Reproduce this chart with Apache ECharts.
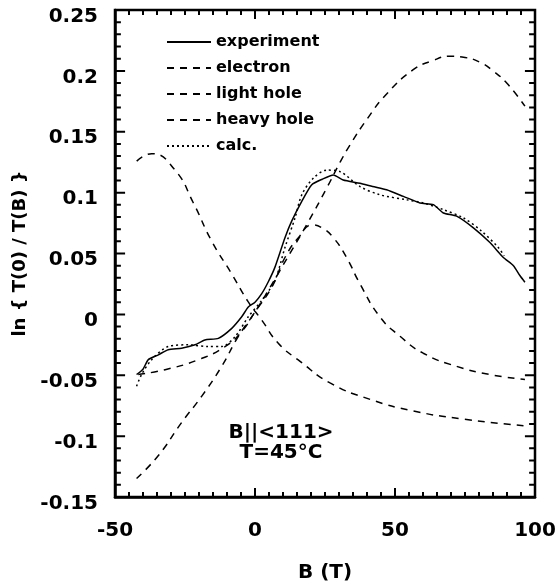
<!DOCTYPE html>
<html>
<head>
    <meta charset="utf-8">
    <title>ln T(0)/T(B)</title>
    <script src="https://cdn.jsdelivr.net/npm/echarts@6/dist/echarts.min.js"></script>
    <style>
        body { margin: 0; background: #fff; }
    </style>
</head>
<body>
    <div id="main" style="width: 560px;height:588px;"></div>
    <script type="text/javascript">
        // 数据
        var expX = [-42.3, -40, -38.1, -34.5, -31, -26.2, -21.4, -17.9, -13.1, -8.3, -4.75, -2.4, 0, 2.4, 4.8, 7.1, 10.7, 13.1, 16.7, 20.2, 24, 28, 31.5, 37.5, 42, 47, 53, 58.9, 63.7, 67.3, 72, 78, 83.9, 88.7, 92.3, 94.6, 96.4];
        var expY = [-0.0494, -0.045, -0.0372, -0.0332, -0.029, -0.0278, -0.025, -0.021, -0.0197, -0.0115, -0.002, 0.006, 0.010, 0.017, 0.027, 0.0386, 0.063, 0.0766, 0.0928, 0.1063, 0.111, 0.1145, 0.1104, 0.1077, 0.105, 0.1023, 0.0969, 0.0915, 0.0901, 0.0833, 0.0807, 0.0711, 0.059, 0.0467, 0.04, 0.0319, 0.0264];

        var elecX = [-42.3, -34.5, -26.2, -19, -11.9, -6, 0, 4.75, 8.9, 13.7, 18.5, 25.6, 30.4, 33.9, 39.9, 47, 56.5, 63, 69.6, 75, 80.4, 85, 89.9, 96.4];
        var elecY = [-0.1348, -0.1159, -0.0888, -0.0671, -0.0427, -0.0183, 0.002, 0.0197, 0.036, 0.0549, 0.0738, 0.1037, 0.125, 0.139, 0.160, 0.181, 0.201, 0.208, 0.212, 0.211, 0.207, 0.2, 0.19, 0.171];

        var lightX = [-41.7, -32.1, -20.2, -10.7, -4.75, 0, 6, 10.7, 15.5, 20.5, 24, 28, 32.7, 37.5, 44.6, 51.8, 60.1, 72, 83.9, 96.4];
        var lightY = [-0.0494, -0.0454, -0.0372, -0.0264, -0.0142, 0.002, 0.0224, 0.0467, 0.063, 0.0735, 0.071, 0.063, 0.0467, 0.025, -0.002, -0.018, -0.0319, -0.0427, -0.0494, -0.0535];

        var heavyX = [-42.25, -36.9, -28.6, -22, -15.5, -8.3, -2.4, 2.4, 8.3, 16.1, 26.8, 41.1, 56.5, 74.4, 96.4];
        var heavyY = [0.1259, 0.132, 0.1186, 0.0915, 0.0603, 0.0332, 0.0102, -0.0047, -0.0237, -0.0386, -0.0563, -0.0698, -0.0793, -0.086, -0.0915];

        var calcX = [-42.3, -40.5, -36.9, -31, -23.8, -16.7, -11.9, -7.1, -2.4, 2.4, 7.1, 10.7, 14.3, 16.7, 20.8, 25.6, 30.4, 37.5, 44.6, 54.2, 60.1, 67.3, 74.4, 80.9, 86.9, 89];
        var calcY = [-0.059, -0.0494, -0.0372, -0.0264, -0.025, -0.0264, -0.0264, -0.0183, -0.002, 0.0115, 0.0278, 0.0549, 0.0793, 0.0982, 0.1118, 0.1185, 0.1172, 0.105, 0.0982, 0.0941, 0.0915, 0.086, 0.0793, 0.0684, 0.0549, 0.048];

        var names = ['experiment', 'electron', 'light hole', 'heavy hole', 'calc.'];

        // 坐标轴范围
        var xMin = -50, xMax = 100, xStep = 50;
        var yMin = -0.15, yMax = 0.25, yStep = 0.05;

        function pairs(xs, ys) {
            var out = [];
            for (var i = 0; i < xs.length; i++) {
                out.push([xs[i], ys[i]]);
            }
            return out;
        }

        // 四边内刻度: 用一条断开的折线画, 长度换成数据单位
        // (x 方向 1 单位约 2.8px, y 方向 0.01 约 12.3px)
        var tickPts = [];
        function seg(x1, y1, x2, y2) {
            tickPts.push([x1, y1], [x2, y2], [x2, '-']);
        }
        for (var i = 0; i <= 30; i++) {
            var xv = xMin + i * 5;
            var ylen = (i % 10 === 0) ? 0.0073 : 0.0041;
            seg(xv, yMin, xv, yMin + ylen);
            seg(xv, yMax, xv, yMax - ylen);
        }
        for (var j = 0; j <= 40; j++) {
            var yv = Math.round((yMin + j * 0.01) * 1000) / 1000;
            var xlen = (j % 5 === 0) ? 3.6 : 2.1;
            seg(xMin, yv, xMin + xlen, yv);
            seg(xMax, yv, xMax - xlen, yv);
        }

        var font = 'DejaVu Sans';
        var dash = [7, 6];

        function line(name, data, type, smooth) {
            return {
                name: name,
                type: 'line',
                data: data,
                symbol: 'none',
                smooth: smooth,
                lineStyle: { color: '#000', width: 1.5, type: type },
                itemStyle: { color: '#000' }
            };
        }

        var labelStyle = { fontFamily: font, fontWeight: 'bold', fontSize: 20, color: '#000' };

        var myChart = echarts.init(document.getElementById('main'));
        var option = {
            animation: false,
            backgroundColor: '#fff',
            grid: { left: 115, right: 25, top: 10, bottom: 86, show: true, borderColor: '#000', borderWidth: 2.5, backgroundColor: 'transparent' },
            legend: {
                data: names,
                orient: 'vertical',
                left: 166,
                top: 34,
                padding: 0,
                itemWidth: 44,
                itemHeight: 16,
                itemGap: 10,
                itemStyle: { opacity: 0 },
                textStyle: { fontFamily: font, fontWeight: 'bold', fontSize: 16, color: '#000', lineHeight: 16 },
                selectedMode: false
            },
            xAxis: {
                type: 'value',
                min: xMin,
                max: xMax,
                interval: xStep,
                name: 'B (T)',
                nameLocation: 'middle',
                nameGap: 66,
                nameTextStyle: { fontFamily: font, fontWeight: 'bold', fontSize: 20, color: '#000', verticalAlign: 'top' },
                axisLine: { show: true, onZero: false, lineStyle: { color: '#000', width: 2.5 } },
                axisTick: { show: false },
                splitLine: { show: false },
                axisLabel: Object.assign({ margin: 24 }, labelStyle)
            },
            yAxis: {
                type: 'value',
                min: yMin,
                max: yMax,
                interval: yStep,
                name: 'ln { T(0) / T(B) }',
                nameLocation: 'middle',
                nameGap: 78,
                nameTextStyle: { fontFamily: font, fontWeight: 'bold', fontSize: 18, color: '#000' },
                axisLine: { show: true, onZero: false, lineStyle: { color: '#000', width: 2.5 } },
                axisTick: { show: false },
                splitLine: { show: false },
                axisLabel: Object.assign({ margin: 17, verticalAlign: 'top', lineHeight: 13 }, labelStyle)
            },
            graphic: [{
                type: 'text',
                x: 281, y: 433,
                style: { text: 'B||<111>', fontFamily: font, fontWeight: 'bold', fontSize: 20, fill: '#000', align: 'center', verticalAlign: 'middle' }
            }, {
                type: 'text',
                x: 281, y: 453,
                style: { text: 'T=45°C', fontFamily: font, fontWeight: 'bold', fontSize: 20, fill: '#000', align: 'center', verticalAlign: 'middle' }
            }],
            series: [
                line('experiment', pairs(expX, expY), 'solid', 0.2),
                line('electron', pairs(elecX, elecY), dash, 0.5),
                line('light hole', pairs(lightX, lightY), dash, 0.5),
                line('heavy hole', pairs(heavyX, heavyY), dash, 0.5),
                line('calc.', pairs(calcX, calcY), [2, 3], 0.3),
                {
                    name: 'ticks',
                    type: 'line',
                    data: tickPts,
                    symbol: 'none',
                    silent: true,
                    connectNulls: false,
                    clip: false,
                    z: 10,
                    lineStyle: { color: '#000', width: 2, type: 'solid' }
                }
            ]
        };
        myChart.setOption(option);
    </script>
</body>
</html>
